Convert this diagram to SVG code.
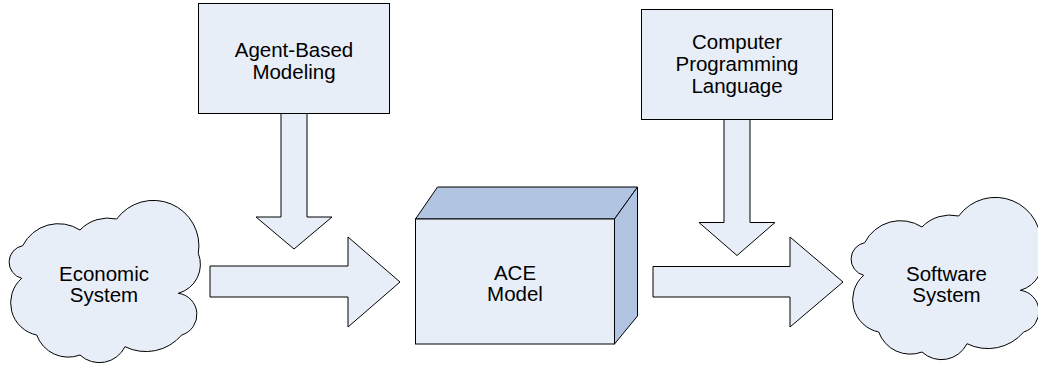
<svg xmlns="http://www.w3.org/2000/svg" xmlns:xlink="http://www.w3.org/1999/xlink" width="1038" height="365" viewBox="0 0 1038 365">
  <style>
    .shape { fill: #E8EEF8; stroke: #000; stroke-width: 1; stroke-linejoin: miter; }
    .side { fill: #B1C5E3; stroke: #000; stroke-width: 1; stroke-linejoin: miter; }
    .label { font-family: "Liberation Sans", Arial, sans-serif; font-size: 20.5px; fill: #000; text-anchor: middle; }
  </style>
  <defs>
    <!-- cloud outline built from outward arcs between notch points -->
    <path id="cloud" d="M 22.7 245.7
      A 40 40 0 0 1 80 230
      A 39 39 0 0 1 116.7 219
      A 45.5 45.5 0 0 1 198.3 253.3
      A 30 30 0 0 1 178.3 293.3
      A 21.4 21.4 0 0 1 181.7 335
      A 47 47 0 0 1 125 346.7
      A 28.5 28.5 0 0 1 80 355
      A 33.5 33.5 0 0 1 36.7 335
      A 32.8 32.8 0 0 1 21.7 278.3
      A 16.7 16.7 0 0 1 22.7 245.7 Z"/>
  </defs>

  <rect width="1038" height="365" fill="#fff"/>

  <!-- block arrows -->
  <g id="connectors">
    <path class="shape" d="M281 113.5 H307 V217 H332 L294 249 L256 217 H281 Z"/>
    <path class="shape" d="M724 119.5 H750 V222.5 H775 L737 255.5 L699 222.5 H724 Z"/>
    <path class="shape" d="M210 266 H348 V237 L400 282 L348 327 V297 H210 Z"/>
    <path class="shape" d="M653 266.5 H790 V237 L843 282 L790 327 V297 H653 Z"/>
  </g>

  <g id="agent-based-modeling">
    <rect class="shape" x="198.5" y="3.5" width="191" height="110"/>
    <text class="label" x="294" y="56.5">Agent-Based</text>
    <text class="label" x="294" y="78.5">Modeling</text>
  </g>

  <g id="computer-programming-language">
    <rect class="shape" x="641.5" y="9.5" width="191" height="110"/>
    <text class="label" x="737" y="49">Computer</text>
    <text class="label" x="737" y="71">Programming</text>
    <text class="label" x="737" y="93">Language</text>
  </g>

  <g id="economic-system">
    <use xlink:href="#cloud" class="shape"/>
    <text class="label" x="104" y="281">Economic</text>
    <text class="label" x="104" y="302">System</text>
  </g>

  <g id="ace-model">
    <path class="side" d="M415.5 219 L437.5 187 H637.5 L614.5 219 Z"/>
    <path class="side" d="M614.5 219 L637.5 187 V316 L614.5 344 Z"/>
    <rect class="shape" x="415.5" y="219" width="199" height="125"/>
    <text class="label" x="515" y="280">ACE</text>
    <text class="label" x="515" y="301">Model</text>
  </g>

  <g id="software-system">
    <use xlink:href="#cloud" class="shape" transform="translate(842 -3)"/>
    <text class="label" x="946.5" y="281">Software</text>
    <text class="label" x="946.5" y="302">System</text>
  </g>
</svg>
